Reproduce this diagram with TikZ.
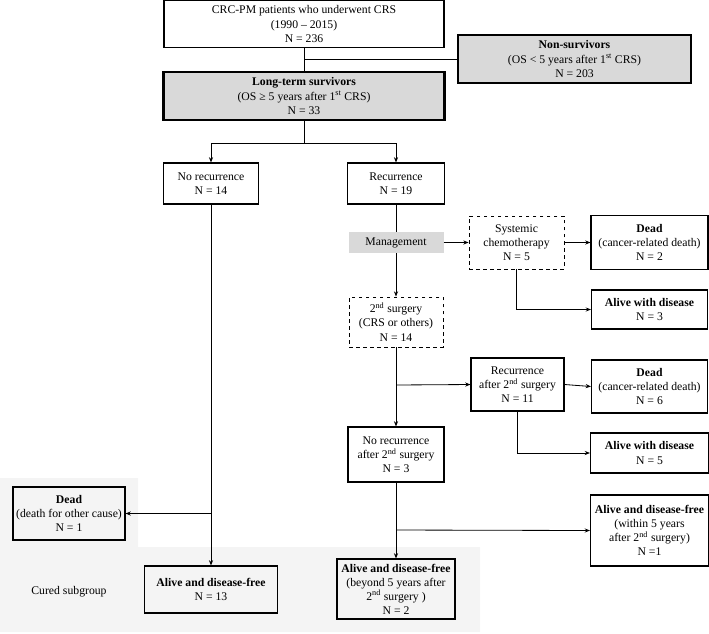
\documentclass[tikz,border=0pt]{standalone}
\usepackage{fontspec}
\setmainfont{Liberation Serif}
\usetikzlibrary{arrows.meta}
\definecolor{crsgray}{HTML}{D9D9D9}
\definecolor{crsbg}{HTML}{F4F4F4}
\begin{document}
\begin{tikzpicture}[
  x=0.03cm, y=-0.03cm,
  crsbox/.style = {draw, line width=0.9pt, inner sep=0pt, align=center,
    font=\fontsize{10}{12}\selectfont},
  crsdash/.style = {crsbox, dashed, line width=0.7pt},
  crsgraybox/.style = {crsbox, fill=crsgray},
  crsline/.style = {line width=0.7pt},
  crsarrow/.style = {crsline, -{Stealth[length=4.5pt,width=3.5pt]}}
]
  \useasboundingbox (0,0) rectangle (709,633);
  % cured subgroup background
  \fill[crsbg] (0,478) -- (138,478) -- (138,547) -- (480,547) -- (480,632) -- (0,632) -- cycle;

  % top of the chart
  \node[crsbox, minimum width=8.4cm, minimum height=1.41cm] (top) at (304,24)
    {CRC-PM patients who underwent CRS\\(1990 -- 2015)\\N = 236};
  \node[crsgraybox, minimum width=6.99cm, minimum height=1.44cm] (nonsurv) at (574.5,59)
    {\textbf{Non-survivors}\\(OS < 5 years after 1\textsuperscript{st} CRS)\\N = 203};
  \node[crsgraybox, line width=1.8pt, minimum width=8.43cm, minimum height=1.44cm] (lts) at (304,96)
    {\textbf{Long-term survivors}\\(OS ≥ 5 years after 1\textsuperscript{st} CRS)\\N = 33};

  % first split
  \node[crsbox, minimum width=2.85cm, minimum height=1.23cm] (norec) at (211,183.5)
    {No recurrence\\N = 14};
  \node[crsbox, minimum width=2.91cm, minimum height=1.23cm] (rec) at (396,183.5)
    {Recurrence\\N = 19};
  \node[fill=crsgray, inner sep=0pt, minimum width=2.85cm, minimum height=0.63cm,
    font=\fontsize{10}{12}\selectfont] (mgmt) at (396,242.5) {Management};

  % chemotherapy branch
  \node[crsdash, minimum width=2.85cm, minimum height=1.59cm] (chemo) at (516.5,242.5)
    {Systemic\\chemotherapy\\N = 5};
  \node[crsbox, minimum width=3.51cm, minimum height=1.62cm] (dead1) at (649.5,242.5)
    {\textbf{Dead}\\(cancer-related death)\\N = 2};
  \node[crsbox, minimum width=3.48cm, minimum height=1.17cm] (awd1) at (649.5,309.5)
    {\textbf{Alive with disease}\\N = 3};

  % second surgery branch
  \node[crsdash, minimum width=2.82cm, minimum height=1.5cm] (surg2) at (396,322)
    {2\textsuperscript{nd} surgery\\(CRS or others)\\N = 14};
  \node[crsbox, minimum width=2.79cm, minimum height=1.59cm] (rec2) at (517.5,384.5)
    {Recurrence\\after 2\textsuperscript{nd} surgery\\N = 11};
  \node[crsbox, minimum width=3.48cm, minimum height=1.59cm] (dead2) at (649.5,386.5)
    {\textbf{Dead}\\(cancer-related death)\\N = 6};
  \node[crsbox, minimum width=3.54cm, minimum height=1.2cm] (awd2) at (649.5,453)
    {\textbf{Alive with disease}\\N = 5};
  \node[crsbox, minimum width=2.88cm, minimum height=1.65cm] (norec2) at (396,454.5)
    {No recurrence\\after 2\textsuperscript{nd} surgery\\N = 3};
  \node[crsbox, minimum width=3.54cm, minimum height=2.13cm] (adfin) at (649.5,530.5)
    {\textbf{Alive and disease-free}\\(within 5 years\\after 2\textsuperscript{nd} surgery)\\N =1};
  \node[crsbox, minimum width=3.54cm, minimum height=1.8cm] (adfout) at (396,589)
    {\textbf{Alive and disease-free}\\(beyond 5 years after\\2\textsuperscript{nd} surgery )\\N = 2};

  % no recurrence branch
  \node[crsbox, minimum width=3.36cm, minimum height=1.59cm] (dead3) at (69,513.5)
    {\textbf{Dead}\\(death for other cause)\\N = 1};
  \node[crsbox, minimum width=3.99cm, minimum height=1.41cm] (adf13) at (211,589.5)
    {\textbf{Alive and disease-free}\\N = 13};
  \node[font=\fontsize{10}{12}\selectfont] (cured) at (69,592) {Cured subgroup};

  % split points
  \coordinate (split1) at (304,143);
  \coordinate (split2) at (396,385);
  \coordinate (split3) at (396,530);
  \coordinate (split4) at (211,513.5);

  % connectors
  \draw[crsline] (top.south) |- (nonsurv.west);
  \draw[crsline] (top.south) -- (lts.north);
  \draw[crsline] (lts.south) -- (split1);
  \draw[crsarrow] (split1) -| (norec.north);
  \draw[crsarrow] (split1) -| (rec.north);
  \draw[crsline] (rec.south) -- (mgmt.north);
  \draw[crsarrow] (mgmt.east) -- (chemo.west);
  \draw[crsarrow] (mgmt.south) -- (surg2.north);
  \draw[crsarrow] (chemo.east) -- (dead1.west);
  \draw[crsarrow] (chemo.south) |- (awd1.west);
  \draw[crsarrow] (surg2.south) -- (norec2.north);
  \draw[crsarrow] (split2) -- (rec2.west);
  \draw[crsarrow] (rec2.east) -- (dead2.west);
  \draw[crsarrow] (rec2.south) |- (awd2.west);
  \draw[crsarrow] (norec2.south) -- (adfout.north);
  \draw[crsarrow] (split3) -- (adfin.west);
  \draw[crsarrow] (norec.south) -- (adf13.north);
  \draw[crsarrow] (split4) -- (dead3.east);
\end{tikzpicture}
\end{document}
